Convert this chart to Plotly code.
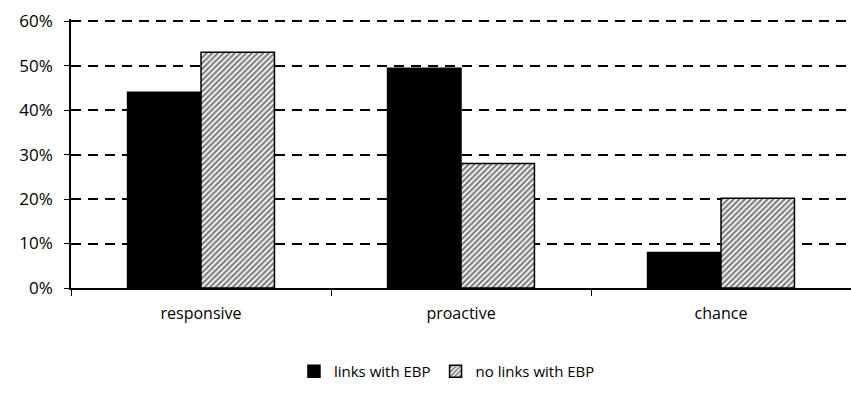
import plotly.graph_objects as go

categories = ["responsive", "proactive", "chance"]
links_with_ebp = [44, 49.4, 8]
no_links_with_ebp = [53, 28, 20.2]
series_names = ["links with EBP", "no links with EBP"]
y_ticks = [0, 10, 20, 30, 40, 50, 60]
y_tick_labels = ["0%", "10%", "20%", "30%", "40%", "50%", "60%"]

fig = go.Figure()
fig.add_trace(go.Bar(
    x=categories, y=links_with_ebp, name=series_names[0],
    marker=dict(color="#000000", line=dict(color="#000000", width=1.5)),
))
fig.add_trace(go.Bar(
    x=categories, y=no_links_with_ebp, name=series_names[1],
    marker=dict(color="#ffffff", line=dict(color="#000000", width=1.5),
                pattern=dict(shape="/", fgcolor="#000000", bgcolor="#ffffff",
                             size=4, solidity=0.55)),
))

font = "Open Sans"
fig.update_layout(
    width=851, height=400,
    margin=dict(l=71, r=0, t=19, b=112),
    paper_bgcolor="white", plot_bgcolor="white",
    barmode="group", bargap=0.435, bargroupgap=0,
    font=dict(family=font, size=15, color="#000000"),
    showlegend=True,
    legend=dict(orientation="h", x=0.482, xanchor="center", y=-0.31, yanchor="middle",
                font=dict(size=15, color="#000000"), itemwidth=30,
                tracegroupgap=0, bgcolor="rgba(0,0,0,0)"),
)
fig.update_xaxes(
    type="category", tickson="boundaries", ticks="outside", ticklen=6,
    tickcolor="#000000", tickwidth=1.2,
    showline=True, linecolor="#000000", linewidth=1.5,
    showgrid=False, tickfont=dict(size=16), ticklabelstandoff=10,
)
fig.update_yaxes(
    range=[0, 60.5], tickvals=y_ticks, ticktext=y_tick_labels,
    ticks="outside", ticklen=5, tickcolor="#000000", tickwidth=1.2,
    showline=True, linecolor="#000000", linewidth=1.5,
    showgrid=True, gridcolor="#000000", gridwidth=1.6, griddash="10px,7px",
    zeroline=False, tickfont=dict(size=17), ticklabelstandoff=8,
)

fig.write_html("out.html")
